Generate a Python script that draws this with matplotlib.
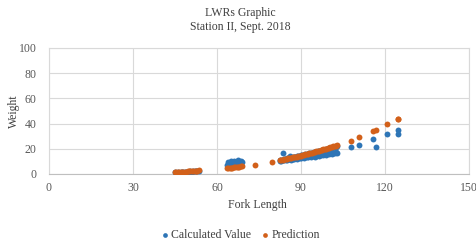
import matplotlib.pyplot as plt

# fork length / weight
small_len = [45.0, 45.5, 46.0, 46.5, 47.0, 47.5, 48.0, 48.5, 49.0, 49.5,
             50.0, 50.5, 51.0, 51.5, 52.0, 52.5, 53.0, 53.5]
small_calc = [1.2, 1.0, 1.4, 1.1, 1.5, 1.3, 1.6, 1.4, 1.8, 1.5,
              1.7, 2.0, 1.9, 2.1, 2.3, 2.0, 2.4, 2.2]
small_pred = [1.2, 1.3, 1.4, 1.4, 1.5, 1.6, 1.7, 1.8, 1.9, 2.0,
              2.1, 2.2, 2.3, 2.4, 2.5, 2.6, 2.7, 2.8]

mid_len = [63.5, 64.0, 64.5, 65.0, 65.5, 66.0, 66.5, 67.0, 67.5, 68.0, 68.5, 69.0]
mid_calc = [7.5, 9.5, 8.0, 10.2, 8.6, 10.5, 8.4, 9.8, 10.8, 8.8, 10.2, 9.6]
mid_pred = [4.4, 4.6, 4.7, 4.9, 5.0, 5.2, 5.3, 5.5, 5.6, 5.8, 6.0, 6.1]

main_len = [82.5, 83.0, 83.5, 84.0, 84.5, 85.0, 85.5, 86.0, 86.5, 87.0,
            87.5, 88.0, 88.5, 89.0, 89.5, 90.0, 90.5, 91.0, 91.5, 92.0,
            92.5, 93.0, 93.5, 94.0, 94.5, 95.0, 95.5, 96.0, 96.5, 97.0,
            97.5, 98.0, 98.5, 99.0, 99.5, 100.0, 100.5, 101.0, 101.5, 102.0,
            102.5, 103.0]
main_calc = [10.0, 10.5, 16.5, 11.0, 11.2, 10.8, 11.8, 14.0, 11.5, 12.2,
             11.8, 12.6, 12.0, 12.5, 13.0, 12.6, 13.2, 12.8, 13.5, 13.8,
             13.2, 14.2, 13.6, 14.0, 14.8, 13.8, 14.6, 15.0, 14.4, 15.3,
             15.8, 15.0, 16.0, 15.4, 16.3, 15.8, 16.8, 16.0, 17.0, 16.5,
             17.4, 17.0]
main_calc2 = [11.0, 11.4, 11.0, 12.0, 12.2, 12.4, 12.8, 12.2, 13.0, 13.4,
              13.6, 13.8, 14.2, 14.4, 14.6, 14.8, 15.0, 15.4, 15.6, 15.8,
              16.2, 16.4, 16.6, 17.0, 17.2, 17.4, 17.8, 18.0, 18.4, 18.6,
              19.0, 19.2, 19.4, 19.8, 20.0, 20.4, 20.6, 21.0, 21.2, 21.6,
              21.8, 22.0]
main_pred = [10.9, 11.2, 11.4, 11.6, 11.9, 12.1, 12.3, 12.6, 12.8, 13.1,
             13.3, 13.6, 13.8, 14.1, 14.4, 14.6, 14.9, 15.2, 15.5, 15.7,
             16.0, 16.3, 16.6, 16.9, 17.2, 17.5, 17.9, 18.2, 18.5, 18.8,
             19.1, 19.5, 19.8, 20.1, 20.5, 20.8, 21.2, 21.5, 21.9, 22.3,
             22.6, 23.0]

big_len = [73.5, 79.5, 108.0, 110.7, 115.7, 116.8, 120.7, 124.6, 124.6]
big_calc = [None, None, 21.4, 23.0, 27.6, 21.4, 31.7, 35.0, 31.7]
big_pred = [7.2, 9.5, 26.0, 29.0, 34.0, 34.8, 39.5, 43.5, 43.5]

xticks = [0, 30, 60, 90, 120, 150]
yticks = [0, 20, 40, 60, 80, 100]

blue = '#2E75B6'
orange = '#D2601A'
grey = '#595959'

plt.rcParams['font.family'] = 'serif'
plt.rcParams['font.serif'] = ['Liberation Serif', 'DejaVu Serif']

fig = plt.figure(figsize=(4.77, 2.46), dpi=100)
ax = fig.add_axes([0.1027, 0.2927, 0.8805, 0.5122])

calc_len = (small_len + mid_len + main_len + main_len
            + [l for l, w in zip(big_len, big_calc) if w is not None])
calc_w = (small_calc + mid_calc + main_calc + main_calc2
          + [w for w in big_calc if w is not None])
pred_len = small_len + mid_len + main_len + big_len
pred_w = small_pred + mid_pred + main_pred + big_pred

ax.scatter(calc_len, calc_w, s=18, color=blue, linewidths=0, zorder=3,
           label='Calculated Value')
ax.scatter(pred_len, pred_w, s=18, color=orange, linewidths=0, zorder=4,
           label='Prediction')

ax.set_xlim(0, 150)
ax.set_ylim(0, 100)
ax.set_xticks(xticks)
ax.set_yticks(yticks)
ax.grid(True, color='#D9D9D9', linewidth=0.8)
ax.set_axisbelow(True)
for side in ['top', 'right', 'left']:
    ax.spines[side].set_color('#D9D9D9')
ax.spines['bottom'].set_color('#BFBFBF')
ax.tick_params(length=0, labelsize=8.5, labelcolor=grey)
ax.tick_params(axis='y', pad=9)
ax.tick_params(axis='x', pad=6)

ax.set_xlabel('Fork Length', fontsize=8.5, color='#404040')
ax.xaxis.set_label_coords(0.495, -0.202)
ax.set_ylabel('Weight', fontsize=8.5, color='#404040')
ax.yaxis.set_label_coords(-0.07, 0.5)

fig.text(0.503, 0.947, 'LWRs Graphic', ha='center', va='center', fontsize=8.5, color='#404040')
fig.text(0.503, 0.89, 'Station II, Sept. 2018', ha='center', va='center', fontsize=8.5, color='#404040')

fig.legend(loc='center', bbox_to_anchor=(0.496, 0.045), ncol=2, frameon=False,
           fontsize=8.5, handletextpad=-0.45, columnspacing=0.2, markerscale=0.8,
           labelcolor='#404040')

fig.savefig('out.png', dpi=100)
